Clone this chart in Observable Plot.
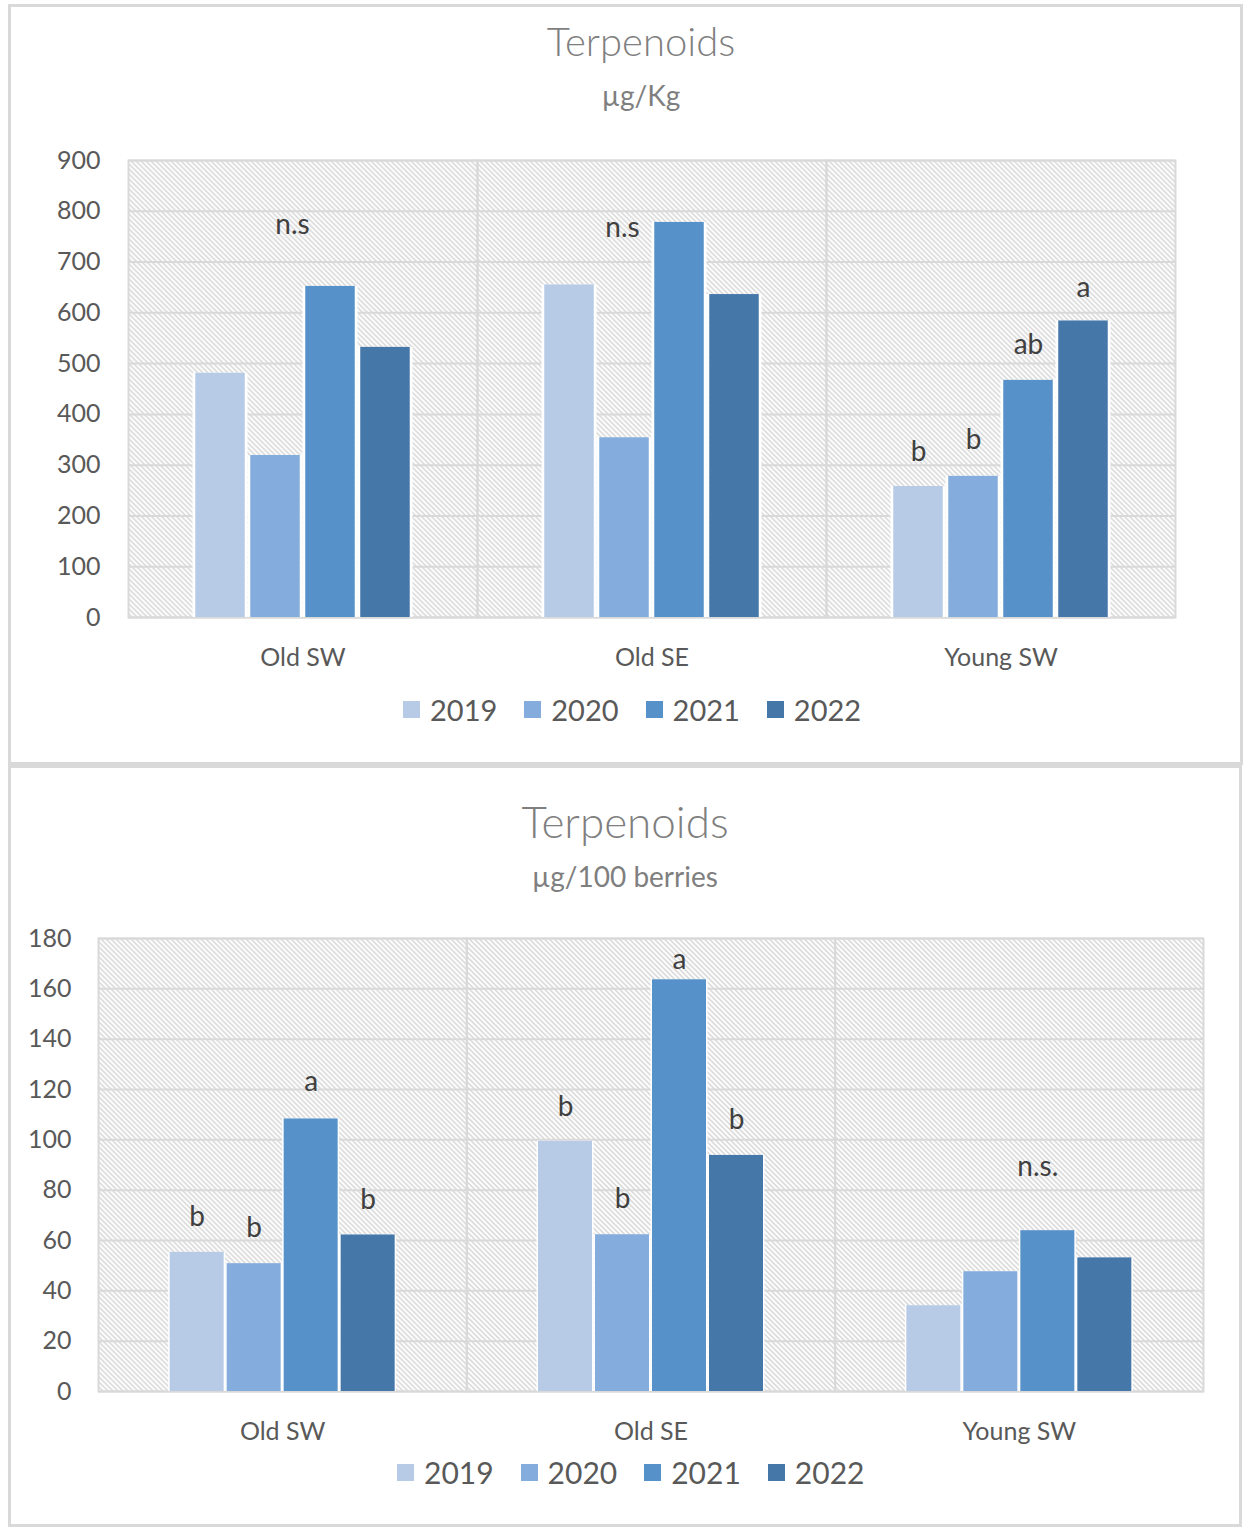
<!DOCTYPE html>
<html>
<head>
<meta charset="utf-8">
<script src="https://cdn.jsdelivr.net/npm/d3@7"></script>
<script src="https://cdn.jsdelivr.net/npm/@observablehq/plot@0.6"></script>
<style>
  html, body { margin: 0; padding: 0; background: #fff; }
  body { font-family: Lato, "Open Sans", sans-serif; }
  #page { position: relative; width: 1248px; height: 1528px; overflow: hidden; }
  .panel { position: absolute; border: 3px solid #d9d9d9; box-sizing: border-box; }
  .chart { position: absolute; left: 0; }
  .ttl { position: absolute; line-height: 1; color: #7f7f7f; white-space: nowrap; transform: translateX(-50%); }
  .legend { position: absolute; display: flex; align-items: center; line-height: 1; font-size: 29px; color: #595959; white-space: nowrap; }
  .legend .item { display: flex; align-items: center; margin-right: 27px; }
  .legend .sw { width: 17px; height: 17px; margin-right: 10px; }
</style>
</head>
<body>
<div id="page"></div>
<script>
// ---------- data ----------
const sites = ["Old SW", "Old SE", "Young SW"];
const years = ["2019", "2020", "2021", "2022"];
const colors = ["#b7cbe6", "#84acdc", "#5692c9", "#4677a9"];

// µg/Kg (per site: Old SW, Old SE, Young SW)
const kg2019 = [481, 655, 258];
const kg2020 = [319, 354, 278];
const kg2021 = [652, 778, 467];
const kg2022 = [532, 636, 584];
const kgTicks = [0, 100, 200, 300, 400, 500, 600, 700, 800, 900];
const kgLetters = [
  {site: "Old SW", year: "2020", y: 756, text: "n.s"},
  {site: "Old SE", year: "2020", y: 750, text: "n.s"},
  {site: "Young SW", year: "2019", y: 309, text: "b"},
  {site: "Young SW", year: "2020", y: 331, text: "b"},
  {site: "Young SW", year: "2021", y: 518, text: "ab"},
  {site: "Young SW", year: "2022", y: 632, text: "a"}
];

// µg/100 berries
const berry2019 = [55.3, 99.4, 34.1];
const berry2020 = [50.8, 62.3, 47.6];
const berry2021 = [108.3, 163.6, 63.9];
const berry2022 = [62.2, 93.8, 53.1];
const berryTicks = [0, 20, 40, 60, 80, 100, 120, 140, 160, 180];
const berryLetters = [
  {site: "Old SW", year: "2019", y: 65.9, text: "b"},
  {site: "Old SW", year: "2020", y: 61.2, text: "b"},
  {site: "Old SW", year: "2021", y: 119.5, text: "a"},
  {site: "Old SW", year: "2022", y: 72.5, text: "b"},
  {site: "Old SE", year: "2019", y: 109.3, text: "b"},
  {site: "Old SE", year: "2020", y: 72.8, text: "b"},
  {site: "Old SE", year: "2021", y: 168, text: "a"},
  {site: "Old SE", year: "2022", y: 104.4, text: "b"},
  {site: "Young SW", year: "2021", y: 85.8, text: "n.s."}
];

// horizontal nudges of the free-floating notes (px)
const noteNudge = {"Old SW|n.s": 17, "Old SE|n.s": -2, "Young SW|n.s.": -10};

// ---------- helpers ----------
function toRows(series) {
  const rows = [];
  sites.forEach((s, i) => years.forEach((y, j) => rows.push({site: s, year: y, value: series[j][i]})));
  return rows;
}

function makeChart(o) {
  const rows = toRows(o.series);
  const letterMarks = o.letters.map(d => Plot.text([d], {
    fx: "site", x: "year", y: "y", text: "text",
    lineAnchor: "bottom", fontSize: 28, fill: "#404040",
    dx: noteNudge[d.site + "|" + d.text] || 0
  }));
  const svg = Plot.plot({
    width: 1248, height: o.height,
    marginLeft: o.ml, marginRight: o.mr, marginTop: o.mt, marginBottom: o.mb,
    style: {fontFamily: "Lato, 'Open Sans', sans-serif", background: "transparent", overflow: "visible", color: "#595959"},
    fx: {domain: sites, padding: 0, round: false, axis: null, label: null},
    x: {domain: years, paddingInner: 0, paddingOuter: o.po, round: false, axis: null},
    y: {domain: [0, o.ticks[o.ticks.length - 1]], axis: null},
    color: {domain: years, range: colors},
    marks: [
      Plot.frame({fill: `url(#${o.id})`, stroke: null}),
      Plot.gridY(o.ticks, {stroke: "#d9d9d9", strokeWidth: 2, strokeOpacity: 1}),
      Plot.frame({stroke: "#d9d9d9", strokeWidth: 2, strokeOpacity: 1}),
      Plot.axisY(o.ticks, {tickSize: 0, tickPadding: o.tp, fontSize: 25, fill: "#595959", label: null}),
      Plot.axisFx({anchor: "bottom", tickSize: 0, tickPadding: 31, fontSize: 25, fill: "#595959", label: null}),
      Plot.barY(rows, {fx: "site", x: "year", y: "value", fill: "white"}),
      Plot.barY(rows, {fx: "site", x: "year", y: "value", fill: "year", insetLeft: o.inset, insetRight: o.inset}),
      ...letterMarks
    ]
  });
  const ns = "http://www.w3.org/2000/svg";
  const defs = document.createElementNS(ns, "defs");
  defs.innerHTML = `<pattern id="${o.id}" patternUnits="userSpaceOnUse" width="5" height="5">
      <rect width="5" height="5" fill="#ffffff"/>
      <path d="M-1,-1 L6,6 M4,-1 L6,1 M-1,4 L1,6" stroke="#c6c6c6" stroke-width="1.1"/>
    </pattern>`;
  svg.insertBefore(defs, svg.firstChild);
  svg.classList.add("chart");
  svg.style.top = o.top + "px";
  return svg;
}

function addDiv(cls, css, html) {
  const d = document.createElement("div");
  d.className = cls;
  Object.assign(d.style, css);
  if (html != null) d.innerHTML = html;
  page.appendChild(d);
  return d;
}

function addLegend(left, top, fs) {
  const lg = addDiv("legend", {left: left + "px", top: top + "px", fontSize: fs + "px"});
  years.forEach((y, i) => {
    const it = document.createElement("div");
    it.className = "item";
    it.innerHTML = `<span class="sw" style="background:${colors[i]}"></span><span>${y}</span>`;
    lg.appendChild(it);
  });
}

const page = document.getElementById("page");

// panels
addDiv("panel", {left: "8px", top: "4px", width: "1235px", height: "761px"});
addDiv("panel", {left: "8px", top: "765px", width: "1234px", height: "762px"});

// top chart
page.appendChild(makeChart({
  id: "hatchA", series: [kg2019, kg2020, kg2021, kg2022], ticks: kgTicks, letters: kgLetters,
  top: 140, height: 540, ml: 128, mr: 73, mt: 20, mb: 63, po: 1.173, inset: 2.75, tp: 28
}));
addDiv("ttl", {left: "641px", top: "21px", fontSize: "40px", fontWeight: "300"}, "Terpenoids");
addDiv("ttl", {left: "641px", top: "81px", fontSize: "28px", fontWeight: "400"}, "µg/Kg");
addLegend(403, 695, 29);

// bottom chart
page.appendChild(makeChart({
  id: "hatchB", series: [berry2019, berry2020, berry2021, berry2022], ticks: berryTicks, letters: berryLetters,
  top: 918, height: 540, ml: 98, mr: 45, mt: 20, mb: 67, po: 1.231, inset: 1.5, tp: 27
}));
addDiv("ttl", {left: "625px", top: "799px", fontSize: "44px", fontWeight: "300"}, "Terpenoids");
addDiv("ttl", {left: "625px", top: "862px", fontSize: "28px", fontWeight: "400"}, "µg/100 berries");
addLegend(397, 1457, 30);
</script>
</body>
</html>
